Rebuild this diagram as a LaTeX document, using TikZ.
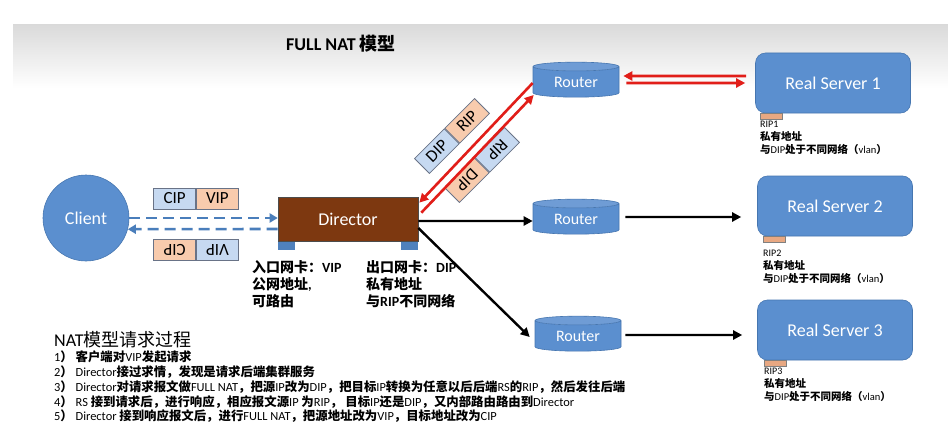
\documentclass[tikz,border=0pt]{standalone}
\usepackage{fontspec}
\setmainfont{Carlito}
\newfontfamily\cjkfont{Noto Sans CJK SC}
\usetikzlibrary{arrows.meta,shapes.geometric,calc}

\XeTeXinterchartokenstate=1
\newXeTeXintercharclass\CJKcls
\makeatletter
\def\setcjkrange#1#2{\count@=#1\relax\loop\XeTeXcharclass\count@=\CJKcls\relax\ifnum\count@<#2\relax\advance\count@ by 1\relax\repeat}
\makeatother
\setcjkrange{"4E00}{"9FFF}
\setcjkrange{"3000}{"303F}
\setcjkrange{"FF00}{"FFEF}
\def\cjkser{\bfseries}
\def\latser{\mdseries}
\XeTeXinterchartoks 0 \CJKcls = {\cjkfont\cjkser}
\XeTeXinterchartoks 4095 \CJKcls = {\cjkfont\cjkser}
\XeTeXinterchartoks \CJKcls 0 = {\rmfamily\latser}
\XeTeXinterchartoks \CJKcls 4095 = {\rmfamily\latser}

\definecolor{nodeblue}{RGB}{91,143,207}
\definecolor{nodeedge}{RGB}{70,118,176}
\definecolor{dirbrown}{RGB}{125,56,16}
\definecolor{pkblue}{RGB}{198,217,241}
\definecolor{pkpeach}{RGB}{248,203,173}
\definecolor{pkedge}{RGB}{105,115,135}
\definecolor{tabpeach}{RGB}{232,168,130}
\definecolor{arrred}{RGB}{225,30,25}
\definecolor{dashblue}{RGB}{74,126,187}
\definecolor{footblue}{RGB}{79,129,189}

\tikzset{
  pk/.style={draw=pkedge, line width=0.8pt, minimum width=42, minimum height=21, inner sep=0pt, font=\fontsize{17}{17}\selectfont},
  router/.style={cylinder, shape border rotate=90, aspect=0.2, minimum width=86, minimum height=35, inner sep=0pt,
    draw=nodeedge, line width=0.6pt, cylinder uses custom fill, cylinder body fill=nodeblue, cylinder end fill=nodeblue!88!white,
    text=white, font=\fontsize{16}{16}\selectfont},
  server/.style={rectangle, rounded corners=10, fill=nodeblue, draw=nodeedge, line width=0.6pt, minimum width=155, minimum height=60,
    text=white, font=\fontsize{18}{18}\selectfont},
  tabbox/.style={fill=tabpeach, draw=gray, line width=0.5pt, minimum width=22, minimum height=6, inner sep=0pt},
  foot/.style={fill=footblue, minimum width=17, minimum height=8, inner sep=0pt},
  riplabel/.style={anchor=north west, align=left, inner sep=0pt, font=\fontsize{10.5}{13}\selectfont},
  dirlabel/.style={anchor=north west, align=left, inner sep=0pt, font=\let\latser\bfseries\bfseries\fontsize{14}{17}\selectfont},
  redarr/.style={draw=arrred, line width=2.6pt, -{Triangle[length=9pt,width=9pt]}},
  blkarr/.style={draw=black, line width=2.4pt, -{Triangle[length=9pt,width=9pt]}},
  dasharr/.style={draw=dashblue, line width=2.6pt, dash pattern=on 11pt off 6pt, -{Triangle[length=8pt,width=9pt]}},
}

\begin{document}
\begin{tikzpicture}[x=1pt,y=-1pt]
\useasboundingbox (0,0) rectangle (948,436);
\fill[white] (0,0) rectangle (948,436);
\shade[top color=gray!29, bottom color=white] (13,25) rectangle (948,88);

% title
\node[font=\let\latser\bfseries\bfseries\fontsize{18}{18}\selectfont] (title) at (341,44) {FULL NAT 模型};

% client and director
\node[circle, fill=nodeblue, draw=nodeedge, line width=0.6pt, minimum size=86, inner sep=0pt, text=white, font=\fontsize{18}{18}\selectfont] (client) at (86,218) {Client};
\node[rectangle, fill=dirbrown, draw=gray!60!black, line width=0.6pt, minimum width=140, minimum height=44, text=white, font=\fontsize{18}{18}\selectfont] (dir) at (348,219) {Director};
\node[foot, anchor=north west] (footL) at (dir.south west) {};
\node[foot, anchor=north east] (footR) at (dir.south east) {};

% routers
\node[router] (r1) at (576,82) {\raisebox{-4pt}{Router}};
\node[router] (r2) at (576,219) {\raisebox{-4pt}{Router}};
\node[router] (r3) at (578,336) {\raisebox{-4pt}{Router}};

% servers
\node[server] (s1) at (833,83) {Real Server 1};
\node[server] (s2) at (835,206) {Real Server 2};
\node[server] (s3) at (835,330) {Real Server 3};
\node[tabbox, anchor=north west] (t1) at ($(s1.south west)+(5,0)$) {};
\node[tabbox, anchor=north west] (t2) at ($(s2.south west)+(6,0)$) {};
\node[tabbox, anchor=north west] (t3) at ($(s3.south west)+(7,0)$) {};

\node[riplabel] (l1) at (760,121) {{\fontsize{10}{13}\selectfont RIP1}\\私有地址\\与DIP处于不同网络（vlan）};
\node[riplabel] (l2) at (763,250) {{\fontsize{10}{13}\selectfont RIP2}\\私有地址\\与DIP处于不同网络（vlan）};
\node[riplabel] (l3) at (764,368) {{\fontsize{10}{13}\selectfont RIP3}\\私有地址\\与DIP处于不同网络（vlan）};

% director labels
\node[dirlabel] (in) at (252,260) {入口网卡：VIP\\公网地址,\\可路由};
\node[dirlabel] (out) at (366,260) {出口网卡：DIP\\私有地址\\与RIP不同网络};

% packets near client
\begin{scope}[shift={(196,198.5)}]
  \node[pk, fill=pkblue, anchor=east] (cipA) at (0,0) {CIP};
  \node[pk, fill=pkpeach, anchor=west] (vipA) at (0,0) {VIP};
\end{scope}
\begin{scope}[shift={(196,250)}, rotate=180, transform shape]
  \node[pk, fill=pkblue, anchor=east] (vipB) at (0,0) {VIP};
  \node[pk, fill=pkpeach, anchor=west] (cipB) at (0,0) {CIP};
\end{scope}
% packets near director-router link
\begin{scope}[shift={(452,136)}, rotate=45, transform shape]
  \node[pk, fill=pkblue, anchor=east] (dipC) at (0,0) {DIP};
  \node[pk, fill=pkpeach, anchor=west] (ripC) at (0,0) {RIP};
\end{scope}
\begin{scope}[shift={(482,165)}, rotate=225, transform shape]
  \node[pk, fill=pkblue, anchor=east] (ripD) at (0,0) {RIP};
  \node[pk, fill=pkpeach, anchor=west] (dipD) at (0,0) {DIP};
\end{scope}

% client <-> director
\draw[dasharr] (client.east) -- (client.east -| dir.west);
\draw[dasharr] ($(dir.west)+(0,10)$) -- (client.-15);

% director <-> router1 (red)
\draw[redarr] ($(r1.west)+(0,1)$) -- ($(dir.north east)+(1,6)$);
\draw[redarr] ($(dir.north east)+(3,16)$) -- ($(r1.west)+(1,13)$);
% router1 <-> server1 (red)
\draw[redarr] ($(s1.west)+(-9,-7)$) -- ($(r1.east)+(4,-6)$);
\draw[redarr] ($(r1.east)+(7,1)$) -- ($(s1.west)+(-10,0)$);

% black arrows
\draw[blkarr] ($(dir.east)+(0,2)$) -- ($(r2.west)+(0,2)$);
\draw[blkarr] ($(r2.east)+(6,-2)$) -- ($(s2.west)+(-16,11)$);
\draw[blkarr] ($(dir.east)+(0,9)$) -- ($(r3.west)+(-5,1)$);
\draw[blkarr] ($(r3.east)+(4,-1)$) -- ($(s3.west)+(-15,5)$);

% process text
\node[anchor=west, inner sep=0pt, font=\def\cjkser{\mdseries}\fontsize{18}{18}\selectfont] (head) at (54,340) {NAT模型请求过程};
\node[anchor=north west, align=left, inner sep=0pt, font=\fontsize{12.4}{14.75}\selectfont] (steps) at (54,351) {%
1） 客户端对VIP发起请求\\
2） Director接过求情，发现是请求后端集群服务\\
3） Director对请求报文做FULL NAT，把源IP改为DIP，把目标IP转换为任意以后后端RS的RIP，然后发往后端\\
4） RS 接到请求后，进行响应，相应报文源IP 为RIP， 目标IP还是DIP，又内部路由路由到Director\\
5） Director 接到响应报文后，进行FULL NAT，把源地址改为VIP，目标地址改为CIP};
\end{tikzpicture}
\end{document}
